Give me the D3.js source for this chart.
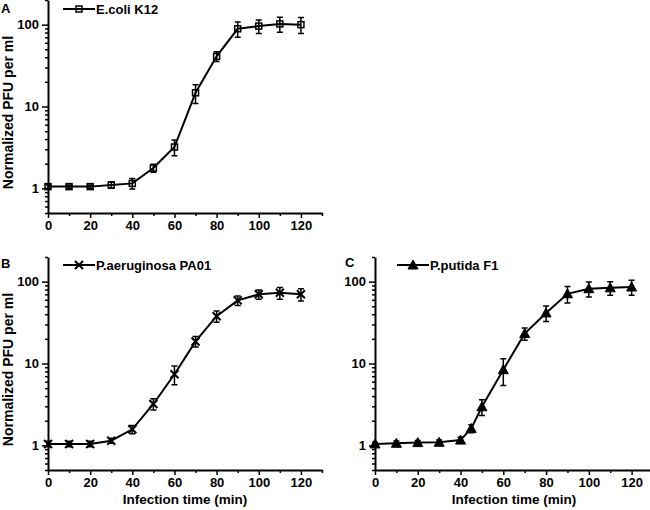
<!DOCTYPE html>
<html>
<head>
<meta charset="utf-8">
<script src="https://cdn.jsdelivr.net/npm/d3@7"></script>
<style>
  html, body { margin: 0; padding: 0; background: #fff; }
  svg { display: block; }
  text { font-family: "Liberation Sans", Arial, sans-serif; font-weight: bold; fill: #000; }
</style>
</head>
<body>
<svg id="chart" width="650" height="510"></svg>
<script>
// ---- data ----
const timesA = [0, 10, 20, 30, 40, 50, 60, 70, 80, 90, 100, 110, 120];
const valuesA = [1.05, 1.05, 1.05, 1.1, 1.15, 1.77, 3.2, 14.7, 41, 89, 96, 102, 100];
const errorsA = [0.05, 0.05, 0.05, 0.1, 0.17, 0.2, 0.7, 3.8, 5.5, 19, 18, 21, 22];

const timesB = [0, 10, 20, 30, 40, 50, 60, 70, 80, 90, 100, 110, 120];
const valuesB = [1.04, 1.04, 1.04, 1.14, 1.57, 3.2, 7.4, 18.6, 37.8, 59, 70, 73, 70];
const errorsB = [0.08, 0.08, 0.08, 0.08, 0.18, 0.5, 1.9, 2.7, 6, 8, 9, 12, 12];

const timesC = [0, 10, 20, 30, 40, 45, 50, 60, 70, 80, 90, 100, 110, 120];
const valuesC = [1.04, 1.06, 1.08, 1.09, 1.16, 1.61, 2.96, 8.4, 23.2, 41.5, 71, 82, 84, 86];
const errorsC = [0.05, 0.07, 0.07, 0.07, 0.1, 0.18, 0.65, 3, 4, 9, 16, 17, 16, 18];

const seriesNames = ["E.coli K12", "P.aeruginosa PA01", "P.putida F1"];
const panelLabels = ["A", "B", "C"];
const xTickValues = [0, 20, 40, 60, 80, 100, 120];
const xMinorTickValues = [10, 30, 50, 70, 90, 110, 130];
const yTickValues = [1, 10, 100];
const xDomain = [0, 130];
const yDomain = [0.5, 200];
const xTitle = "Infection time (min)";
const yTitle = "Normalized PFU per ml";

// ---- layout ----
const svg = d3.select("#chart");
const panels = [
  { times: timesA, values: valuesA, errors: errorsA, name: seriesNames[0], label: panelLabels[0],
    x0: 48, x1: 322, y0: 213, y1: 0, marker: "square", yTitle: true, xTitle: false,
    labelPos: [1, 13], legendX: 63, legendY: 9 },
  { times: timesB, values: valuesB, errors: errorsB, name: seriesNames[1], label: panelLabels[1],
    x0: 48, x1: 322, y0: 470, y1: 257, marker: "cross", yTitle: true, xTitle: true,
    labelPos: [1, 268], legendX: 63, legendY: 265 },
  { times: timesC, values: valuesC, errors: errorsC, name: seriesNames[2], label: panelLabels[2],
    x0: 375, x1: 653, y0: 470, y1: 257, marker: "triangle", yTitle: false, xTitle: true,
    labelPos: [345, 267], legendX: 397, legendY: 265 }
];

function drawMarker(g, type, cx, cy) {
  if (type === "square") {
    g.append("rect").attr("x", cx - 3).attr("y", cy - 3).attr("width", 6).attr("height", 6)
      .attr("fill", "none").attr("stroke", "#000").attr("stroke-width", 1.5);
  } else if (type === "cross") {
    const s = 4;
    g.append("path").attr("d", `M${cx - s},${cy - s}L${cx + s},${cy + s}M${cx - s},${cy + s}L${cx + s},${cy - s}`)
      .attr("stroke", "#000").attr("stroke-width", 2).attr("fill", "none");
  } else {
    const s = 5;
    g.append("path").attr("d", `M${cx},${cy - s}L${cx + s},${cy + s * 0.8}L${cx - s},${cy + s * 0.8}Z`)
      .attr("fill", "#000").attr("stroke", "#000").attr("stroke-width", 1);
  }
}

panels.forEach(p => {
  const x = d3.scaleLinear().domain(xDomain).range([p.x0, p.x1]);
  const y = d3.scaleLog().domain(yDomain).range([p.y0, p.y1]);
  const g = svg.append("g");

  // y axis
  const yMinor = [];
  [0.1, 1, 10, 100].forEach(d => { for (let k = 2; k <= 9; k++) { const v = d * k; if (v >= yDomain[0] && v <= yDomain[1]) yMinor.push(v); } });
  g.append("g").attr("transform", `translate(${p.x0},0)`)
    .call(d3.axisLeft(y).tickValues(yMinor).tickSize(3).tickFormat(""))
    .call(a => a.select(".domain").remove())
    .selectAll("line").attr("stroke-width", 1.5);
  const ya = g.append("g").attr("transform", `translate(${p.x0},0)`)
    .call(d3.axisLeft(y).tickValues(yTickValues).tickSize(6).tickPadding(3).tickSizeOuter(0).tickFormat(d3.format("d")));
  ya.select(".domain").attr("stroke-width", 2);
  ya.selectAll("line").attr("stroke-width", 1.5);
  ya.selectAll("text").style("font-size", "13px").style("font-family", "Liberation Sans, Arial, sans-serif").style("font-weight", "bold");

  // x axis
  g.append("g").attr("transform", `translate(0,${p.y0})`)
    .call(d3.axisBottom(x).tickValues(xMinorTickValues).tickSize(3).tickFormat(""))
    .call(a => a.select(".domain").remove())
    .selectAll("line").attr("stroke-width", 1.5);
  const xa = g.append("g").attr("transform", `translate(0,${p.y0})`)
    .call(d3.axisBottom(x).tickValues(xTickValues).tickSize(5).tickPadding(3).tickSizeOuter(0).tickFormat(d3.format("d")));
  xa.select(".domain").attr("stroke-width", 2);
  xa.selectAll("line").attr("stroke-width", 1.5);
  xa.selectAll("text").style("font-size", "13px").style("font-family", "Liberation Sans, Arial, sans-serif").style("font-weight", "bold");

  // titles
  if (p.yTitle) {
    g.append("text").attr("transform", `translate(13,${(p.y0 + p.y1) / 2 + 6}) rotate(-90)`)
      .attr("text-anchor", "middle").style("font-size", "14px").text(yTitle);
  }
  if (p.xTitle) {
    g.append("text").attr("x", (p.x0 + x(130)) / 2).attr("y", 504)
      .attr("text-anchor", "middle").style("font-size", "13.5px").text(xTitle);
  }
  g.append("text").attr("x", p.labelPos[0]).attr("y", p.labelPos[1]).style("font-size", "13px").text(p.label);

  // line
  const data = p.times.map((t, i) => ({ t, v: p.values[i], e: p.errors[i] }));
  g.append("path").datum(data)
    .attr("d", d3.line().x(d => x(d.t)).y(d => y(d.v)))
    .attr("fill", "none").attr("stroke", "#000").attr("stroke-width", 2);

  // markers then error bars
  data.forEach(d => drawMarker(g, p.marker, x(d.t), y(d.v)));
  data.forEach(d => {
    const cx = x(d.t), yt = y(d.v + d.e), yb = y(Math.max(d.v - d.e, 0.5));
    g.append("path").attr("d", `M${cx},${yt}L${cx},${yb}M${cx - 3},${yt}L${cx + 3},${yt}M${cx - 3},${yb}L${cx + 3},${yb}`)
      .attr("stroke", "#000").attr("stroke-width", 1.5).attr("fill", "none");
  });

  // legend
  g.append("line").attr("x1", p.legendX).attr("x2", p.legendX + 32).attr("y1", p.legendY).attr("y2", p.legendY)
    .attr("stroke", "#000").attr("stroke-width", 2);
  drawMarker(g, p.marker, p.legendX + 16, p.legendY);
  g.append("text").attr("x", p.legendX + 33).attr("y", p.legendY + 5).style("font-size", "13px").text(p.name);
});
</script>
</body>
</html>
